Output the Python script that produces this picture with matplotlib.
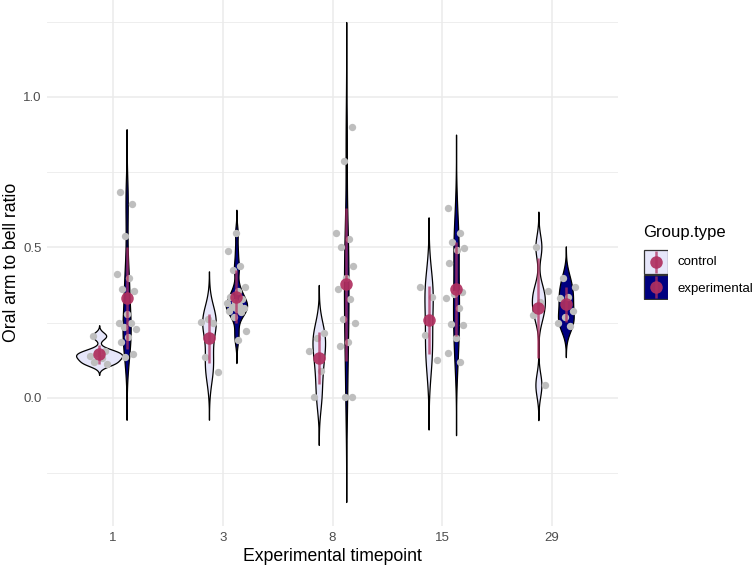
import numpy as np
import matplotlib
matplotlib.use("Agg")
import matplotlib.pyplot as plt
from matplotlib.patches import Rectangle

plt.rcParams['font.family'] = ['Liberation Sans', 'DejaVu Sans']

# ---------------- data ----------------
timepoints = ['1', '3', '8', '15', '29']
groups = ['control', 'experimental']

ctrl_t1 = [0.206, 0.157, 0.148, 0.140, 0.133, 0.120, 0.112]
exp_t1 = [0.684, 0.645, 0.538, 0.412, 0.399, 0.362, 0.355, 0.279, 0.249, 0.249,
          0.236, 0.228, 0.203, 0.186, 0.146, 0.136]
ctrl_t3 = [0.262, 0.253, 0.250, 0.136, 0.086]
exp_t3 = [0.548, 0.488, 0.439, 0.425, 0.369, 0.355, 0.336, 0.330, 0.320, 0.315,
          0.309, 0.302, 0.300, 0.296, 0.290, 0.285, 0.269, 0.223, 0.193]
ctrl_t8 = [0.216, 0.199, 0.156, 0.090, 0.003]
exp_t8 = [0.900, 0.787, 0.548, 0.528, 0.502, 0.439, 0.400, 0.362, 0.329, 0.262,
          0.249, 0.186, 0.173, 0.003, 0.003]
ctrl_t15 = [0.369, 0.336, 0.209, 0.126]
exp_t15 = [0.631, 0.548, 0.518, 0.498, 0.492, 0.448, 0.352, 0.346, 0.332, 0.299,
           0.246, 0.243, 0.199, 0.150, 0.120]
ctrl_t29 = [0.502, 0.356, 0.320, 0.276, 0.043]
exp_t29 = [0.400, 0.369, 0.336, 0.332, 0.289, 0.269, 0.249, 0.239]

control_series = [ctrl_t1, ctrl_t3, ctrl_t8, ctrl_t15, ctrl_t29]
experimental_series = [exp_t1, exp_t3, exp_t8, exp_t15, exp_t29]

# ---------------- style ----------------
fill_colors = {'control': '#E6E6FA', 'experimental': '#000080'}
maroon = '#B03060'
point_grey = '#BEBEBE'
grid_col = '#EBEBEB'
dodge = 0.125
max_half_width = 0.21
jitter_w = 0.09


def bw_nrd0(x):
    x = np.asarray(x, float)
    sd = np.std(x, ddof=1)
    q1, q3 = np.percentile(x, [25, 75])
    lo = min(sd, (q3 - q1) / 1.34)
    if lo <= 0:
        lo = sd if sd > 0 else 1.0
    return 0.9 * lo * len(x) ** (-0.2)


def density(x, n=512):
    x = np.asarray(x, float)
    bw = bw_nrd0(x)
    grid = np.linspace(x.min() - 3 * bw, x.max() + 3 * bw, n)
    d = np.exp(-0.5 * ((grid[:, None] - x[None, :]) / bw) ** 2).sum(axis=1)
    d /= (len(x) * bw * np.sqrt(2 * np.pi))
    return grid, d


fig = plt.figure(figsize=(7.56, 5.67), dpi=100)
ax = fig.add_axes([47 / 756, 41 / 567, 571 / 756, 528 / 567])

# densities
dens = {}
for g, series in zip(groups, [control_series, experimental_series]):
    for i, vals in enumerate(series):
        dens[(g, i)] = density(vals)
global_max = max(d.max() for _, d in dens.values())

ymin = min(c.min() for c, _ in dens.values())
ymax = max(c.max() for c, _ in dens.values())
rng = ymax - ymin
ax.set_ylim(ymin - 0.05 * rng, ymax + 0.05 * rng)
ax.set_xlim(-0.6, len(timepoints) - 0.4)

# grid
for v in [-0.25, 0.25, 0.75, 1.25]:
    ax.axhline(v, color=grid_col, lw=0.6, zorder=0)
for v in [0.0, 0.5, 1.0]:
    ax.axhline(v, color=grid_col, lw=1.1, zorder=0)
for i in range(len(timepoints)):
    ax.axvline(i, color=grid_col, lw=1.1, zorder=0)

# violins
for g, sign in zip(groups, [-1, 1]):
    for i in range(len(timepoints)):
        c, d = dens[(g, i)]
        hw = d / global_max * max_half_width
        xc = i + sign * dodge
        ax.fill_betweenx(c, xc - hw, xc + hw, facecolor=fill_colors[g],
                         edgecolor='black', lw=0.9, zorder=2)

# jittered points (deterministic jitter)
for g, sign, series in zip(groups, [-1, 1], [control_series, experimental_series]):
    for i, vals in enumerate(series):
        xc = i + sign * dodge
        k = np.arange(len(vals))
        offs = jitter_w * (2 * ((k * 0.6180339 + 0.3 * i + 0.17) % 1.0) - 1)
        ax.scatter(xc + offs, vals, s=28, color=point_grey, zorder=3,
                   linewidths=0)

# mean +- sd
for g, sign, series in zip(groups, [-1, 1], [control_series, experimental_series]):
    for i, vals in enumerate(series):
        xc = i + sign * dodge
        m = np.mean(vals)
        s = np.std(vals, ddof=1)
        ax.vlines(xc, m - s, m + s, color=maroon, lw=1.8, alpha=0.75, zorder=4)
        ax.plot([xc], [m], 'o', ms=9, color=maroon, alpha=0.92, mec='none',
                zorder=5)

# axes styling
ax.set_xticks(range(len(timepoints)))
ax.set_xticklabels(timepoints)
ax.set_yticks([0.0, 0.5, 1.0])
ax.set_yticklabels(['0.0', '0.5', '1.0'])
ax.tick_params(length=0, labelsize=9.5, labelcolor='#4D4D4D', pad=4)
for sp in ax.spines.values():
    sp.set_visible(False)
ax.set_xlabel('Experimental timepoint', fontsize=12.7, labelpad=3)
ax.set_ylabel('Oral arm to bell ratio', fontsize=12.7, labelpad=2)

# legend (manual)
fig.text(643 / 756, 1 - 232 / 567, 'Group.type', fontsize=12, va='center',
         ha='left')
lax = fig.add_axes([643 / 756, 1 - 300 / 567, 25 / 756, 51 / 567])
lax.set_xlim(0, 1)
lax.set_ylim(0, 2)
lax.axis('off')
for j, g in enumerate(groups):
    y0 = 1 - j
    lax.add_patch(Rectangle((0.02, y0 + 0.03), 0.96, 0.94,
                            facecolor=fill_colors[g], edgecolor='#333333',
                            lw=0.9))
    lax.vlines(0.5, y0 + 0.06, y0 + 0.94, color=maroon, lw=1.8, alpha=0.75)
    lax.plot([0.5], [y0 + 0.5], 'o', ms=9, color=maroon, alpha=0.92,
             mec='none')
    fig.text(678 / 756, 1 - (262 + 27 * j) / 567, g, fontsize=9.5,
             va='center', ha='left')

fig.savefig('out.png', dpi=100)
